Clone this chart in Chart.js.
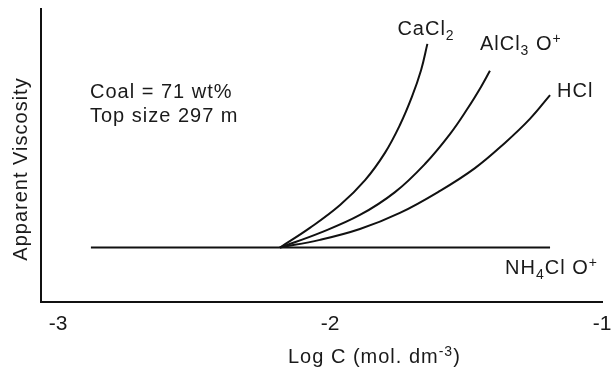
<!DOCTYPE html>
<html>
<head>
<meta charset="utf-8">
<script src="https://cdn.jsdelivr.net/npm/chart.js@4.4.1/dist/chart.umd.min.js"></script>
<style>
  html, body { margin: 0; padding: 0; background: #fff; }
  canvas { display: block; }
</style>
</head>
<body>
<canvas id="viscChart" width="611" height="369"></canvas>
<script>
// x = log C (mol dm-3), y = apparent viscosity (relative units, 0-100)
const xTicks = [-3, -2, -1];

const nh4clX = [-2.879, -1.191];
const nh4clY = [18.6, 18.6];

const cacl2X = [-2.184, -2.074, -1.963, -1.871, -1.798, -1.743, -1.699, -1.665, -1.642];
const cacl2Y = [18.6, 25.3, 33.1, 41.6, 50.9, 60.4, 70.0, 79.2, 88.1];

const alcl3X = [-2.184, -2.037, -1.890, -1.761, -1.651, -1.559, -1.493, -1.445, -1.412];
const alcl3Y = [18.6, 23.6, 29.7, 37.5, 47.1, 57.3, 66.2, 73.4, 78.9];

const hclX = [-2.184, -2.037, -1.890, -1.743, -1.596, -1.467, -1.357, -1.265, -1.191];
const hclY = [18.6, 21.2, 24.9, 30.4, 37.9, 45.7, 54.3, 62.5, 70.6];

const FONT = '"Liberation Sans", Arial, sans-serif';
const INK = '#1a1a1a';

const toPoints = (xs, ys) => xs.map((x, i) => ({ x, y: ys[i] }));

const lineStyle = {
    borderColor: '#111',
    borderWidth: 2,
    pointRadius: 0,
    fill: false,
    tension: 0.4
};

// text runs: { t, sub } for subscripts, { t, sup } for superscripts
function drawRuns(ctx, runs, x, y) {
    let cx = x;
    runs.forEach(r => {
        const small = r.sub || r.sup;
        ctx.font = (small ? 14 : 20) + 'px ' + FONT;
        const dy = r.sub ? 5 : (r.sup ? -7 : 0);
        ctx.fillText(r.t, cx, y + dy);
        cx += ctx.measureText(r.t).width;
    });
}

const curveLabels = [
    { dataset: 1, dx: -30, dy: -9, runs: [{ t: 'CaCl' }, { t: '2', sub: true }] },
    { dataset: 2, dx: -10, dy: -21, runs: [{ t: 'AlCl' }, { t: '3', sub: true }, { t: ' O' }, { t: '+', sup: true }] },
    { dataset: 3, dx: 7, dy: 2, runs: [{ t: 'HCl' }] },
    { dataset: 0, dx: -45, dy: 26, runs: [{ t: 'NH' }, { t: '4', sub: true }, { t: 'Cl O' }, { t: '+', sup: true }] }
];

const textPlugin = {
    id: 'textPlugin',
    afterDraw(chart) {
        const ctx = chart.ctx;
        const area = chart.chartArea;
        ctx.save();
        ctx.fillStyle = INK;
        ctx.letterSpacing = '1px';
        ctx.textBaseline = 'alphabetic';
        ctx.textAlign = 'left';

        curveLabels.forEach(lbl => {
            const pts = chart.getDatasetMeta(lbl.dataset).data;
            const last = pts[pts.length - 1];
            drawRuns(ctx, lbl.runs, last.x + lbl.dx, last.y + lbl.dy);
        });

        // sample note
        ctx.font = '20px ' + FONT;
        ctx.fillText('Coal = 71 wt%', area.left + 49, area.top + 89);
        ctx.fillText('Top size 297 m', area.left + 49, area.top + 113);

        // x axis title with superscript
        drawRuns(ctx, [{ t: 'Log C (mol. dm' }, { t: '-3', sup: true }, { t: ')' }], 288, 363);

        // y axis title
        ctx.translate(27, 169);
        ctx.rotate(-Math.PI / 2);
        ctx.textAlign = 'center';
        ctx.font = '20px ' + FONT;
        ctx.fillText('Apparent Viscosity', 0, 0);
        ctx.restore();
    }
};

new Chart(document.getElementById('viscChart'), {
    type: 'line',
    data: {
        datasets: [
            { label: 'NH4Cl', data: toPoints(nh4clX, nh4clY), ...lineStyle, tension: 0 },
            { label: 'CaCl2', data: toPoints(cacl2X, cacl2Y), ...lineStyle },
            { label: 'AlCl3', data: toPoints(alcl3X, alcl3Y), ...lineStyle },
            { label: 'HCl', data: toPoints(hclX, hclY), ...lineStyle }
        ]
    },
    options: {
        responsive: false,
        animation: false,
        layout: { padding: { top: 9, left: 0, right: 9, bottom: 0 } },
        plugins: {
            legend: { display: false },
            tooltip: { enabled: false }
        },
        scales: {
            x: {
                type: 'linear',
                min: -3.0625,
                max: -1,
                afterBuildTicks: scale => { scale.ticks = xTicks.map(v => ({ value: v })); },
                afterFit: scale => {
                    scale.height = 67;
                    scale.paddingLeft = 0;
                    scale.paddingRight = 0;
                },
                ticks: {
                    font: { family: FONT, size: 21 },
                    color: INK,
                    padding: 10,
                    maxRotation: 0,
                    autoSkip: false,
                    callback: v => String(v)
                },
                grid: { display: false, drawTicks: false },
                border: { color: '#111', width: 2 }
            },
            y: {
                min: 0,
                max: 100,
                afterFit: scale => { scale.width = 41; },
                ticks: { display: false },
                grid: { display: false, drawTicks: false },
                border: { color: '#111', width: 2 }
            }
        }
    },
    plugins: [textPlugin]
});
</script>
</body>
</html>
